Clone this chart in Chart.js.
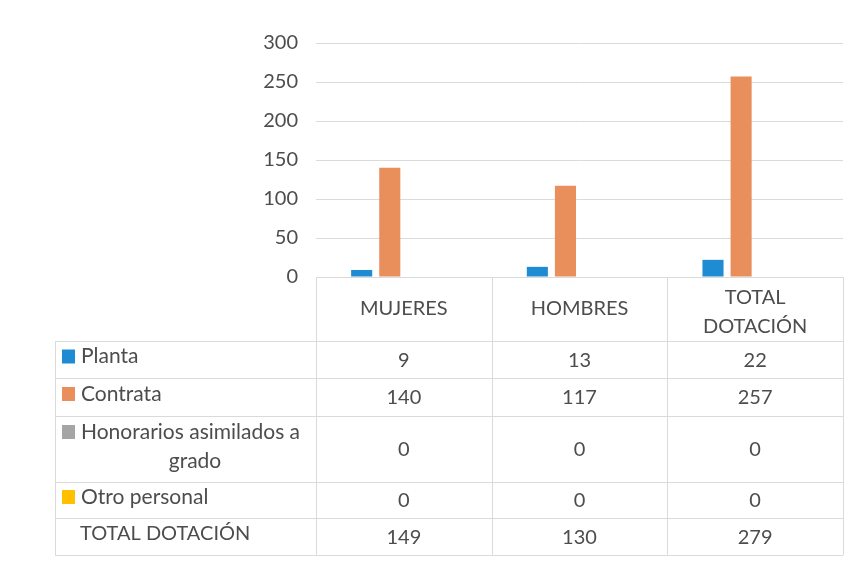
<!DOCTYPE html>
<html>
<head>
<meta charset="utf-8">
<script src="https://cdn.jsdelivr.net/npm/chart.js@4/dist/chart.umd.min.js"></script>
<style>
  html, body { margin: 0; padding: 0; background: #fff; }
  #wrap { width: 859px; height: 567px; position: relative; }
</style>
</head>
<body>
<div id="wrap"><canvas id="chartCanvas" width="859" height="567"></canvas></div>
<script>
const categories = ["MUJERES", "HOMBRES", "TOTAL DOTACIÓN"];
const planta = [9, 13, 22];
const contrata = [140, 117, 257];
const honorarios = [0, 0, 0];
const otroPersonal = [0, 0, 0];
const totalDotacion = [149, 130, 279];
const yTicks = [0, 50, 100, 150, 200, 250, 300];

const FONT = "Lato, 'Open Sans', sans-serif";
const TEXT = "#4d4d4d";
const LINE = "#dadada";

const series = [
    { label: "Planta", data: planta, color: "#1f8bd3" },
    { label: "Contrata", data: contrata, color: "#e98f5c" },
    { label: "Honorarios asimilados a grado", data: honorarios, color: "#a5a5a5" },
    { label: "Otro personal", data: otroPersonal, color: "#ffc000" }
];

// tabla de datos debajo del grafico (como en Excel)
const dataTablePlugin = {
    id: "dataTable",
    afterDraw(chart) {
        const ctx = chart.ctx;
        const area = chart.chartArea;
        const colW = (area.right - area.left) / categories.length;
        const tableLeft = 55;
        const headTop = area.bottom;
        const rows = [341, 378, 416, 482, 518, 555]; // bordes de filas

        ctx.save();
        ctx.strokeStyle = LINE;
        ctx.lineWidth = 1;

        // lineas horizontales
        ctx.beginPath();
        ctx.moveTo(area.left, headTop + 0.5);
        ctx.lineTo(area.right, headTop + 0.5);
        rows.forEach(y => {
            ctx.moveTo(tableLeft, y + 0.5);
            ctx.lineTo(area.right, y + 0.5);
        });
        // lineas verticales
        ctx.moveTo(tableLeft + 0.5, rows[0]);
        ctx.lineTo(tableLeft + 0.5, rows[rows.length - 1]);
        for (let i = 0; i <= categories.length; i++) {
            const x = Math.round(area.left + i * colW) + 0.5;
            ctx.moveTo(x, headTop);
            ctx.lineTo(x, rows[rows.length - 1]);
        }
        ctx.stroke();

        ctx.fillStyle = TEXT;
        ctx.font = "20px " + FONT;
        ctx.textAlign = "center";
        ctx.textBaseline = "middle";

        // encabezados de categorias
        categories.forEach((cat, i) => {
            const cx = area.left + (i + 0.5) * colW;
            const words = cat.split(" ");
            if (words.length > 1) {
                ctx.fillText(words[0], cx, headTop + 21);
                ctx.fillText(words.slice(1).join(" "), cx, headTop + 50);
            } else {
                ctx.fillText(cat, cx, headTop + 32);
            }
        });

        // filas de series + total
        const allRows = series.map(s => ({ label: s.label, data: s.data, color: s.color }));
        allRows.push({ label: "TOTAL DOTACIÓN", data: totalDotacion, color: null });

        allRows.forEach((row, r) => {
            const top = rows[r];
            const bottom = rows[r + 1];
            const mid = (top + bottom) / 2;
            const isHon = row.label.startsWith("Honorarios");

            ctx.font = "20px " + FONT;
            ctx.textAlign = "center";
            row.data.forEach((v, i) => {
                const cx = area.left + (i + 0.5) * colW;
                ctx.fillText(String(v), cx, mid + 1);
            });

            const labelY = isHon ? top + 16 : mid - 3;
            if (row.color) {
                ctx.fillStyle = row.color;
                ctx.fillRect(62, labelY - 7, 13, 14);
                ctx.fillStyle = TEXT;
            }

            ctx.font = (row.color ? "21px " : "20px ") + FONT;
            ctx.textAlign = "left";
            if (isHon) {
                ctx.fillText("Honorarios asimilados a", 81, labelY);
                ctx.textAlign = "center";
                ctx.fillText("grado", 195, top + 45);
            } else if (row.color) {
                ctx.fillText(row.label, 81, labelY);
            } else {
                ctx.fillText(row.label, 80, labelY);
            }
        });

        ctx.restore();
    }
};

document.addEventListener("DOMContentLoaded", function () {
    const chartCanvas = document.getElementById("chartCanvas").getContext("2d");

    new Chart(chartCanvas, {
        type: "bar",
        data: {
            labels: categories,
            datasets: series.map(s => ({
                label: s.label,
                data: s.data,
                backgroundColor: s.color,
                borderWidth: 0,
                categoryPercentage: 0.64,
                barPercentage: 0.75
            }))
        },
        options: {
            responsive: false,
            animation: false,
            layout: {
                padding: { top: 43, right: 16, bottom: 290, left: 0 }
            },
            plugins: {
                legend: { display: false },
                tooltip: { enabled: false }
            },
            scales: {
                x: {
                    display: false
                },
                y: {
                    min: 0,
                    max: 300,
                    afterBuildTicks: (scale) => {
                        scale.ticks = yTicks.map(v => ({ value: v }));
                    },
                    afterFit: (scale) => {
                        scale.width = 316;
                    },
                    border: { display: false },
                    grid: { color: LINE, drawTicks: false },
                    ticks: {
                        padding: 18,
                        color: TEXT,
                        font: { family: FONT, size: 20 }
                    }
                }
            }
        },
        plugins: [dataTablePlugin]
    });
});
</script>
</body>
</html>
